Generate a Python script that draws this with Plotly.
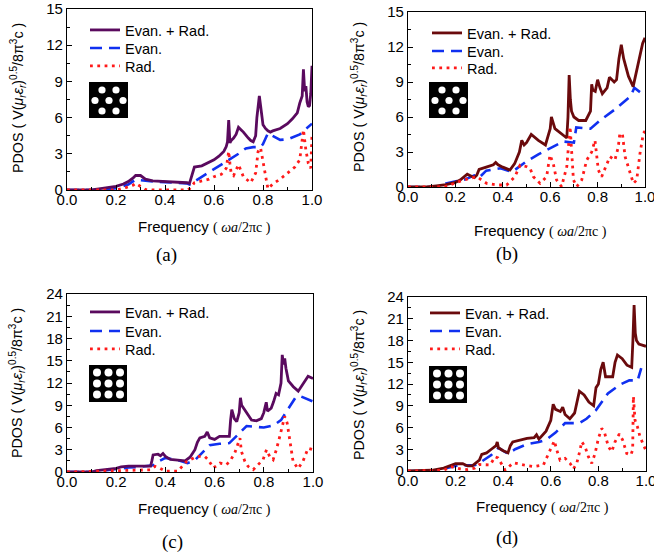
import plotly.graph_objects as go

W, H = 654, 556

# ---------------- data ----------------
a_tot_x = [0, 0.10, 0.13, 0.17, 0.20, 0.23, 0.25, 0.27, 0.28, 0.30, 0.32, 0.35, 0.40, 0.45, 0.49, 0.50, 0.51, 0.52, 0.55, 0.58, 0.60, 0.62, 0.64, 0.65, 0.655, 0.66, 0.665, 0.67, 0.68, 0.69, 0.70, 0.71, 0.72, 0.74, 0.75, 0.76, 0.77, 0.775, 0.78, 0.785, 0.79, 0.80, 0.81, 0.82, 0.83, 0.84, 0.87, 0.90, 0.92, 0.94, 0.95, 0.96, 0.965, 0.97, 0.975, 0.98, 0.985, 0.99, 0.995, 1.0]
a_tot_y = [0, 0, 0.1, 0.2, 0.3, 0.5, 0.7, 1.0, 1.2, 1.2, 0.9, 0.75, 0.7, 0.7, 0.6, 0.55, 1.3, 1.9, 2.0, 2.3, 2.5, 2.8, 3.2, 3.6, 4.0, 5.8, 3.9, 4.1, 4.3, 4.6, 5.2, 5.0, 4.8, 4.3, 4.1, 4.0, 4.5, 6.0, 7.0, 7.8, 7.0, 5.4, 5.1, 4.9, 4.8, 4.9, 5.1, 5.5, 5.9, 6.4, 7.2, 7.8, 10.0, 8.2, 8.6, 7.3, 6.9, 7.0, 8.0, 10.3]
a_eva_x = [0, 0.15, 0.20, 0.25, 0.28, 0.30, 0.35, 0.40, 0.45, 0.49, 0.50, 0.52, 0.55, 0.60, 0.65, 0.70, 0.73, 0.76, 0.79, 0.80, 0.82, 0.84, 0.87, 0.90, 0.95, 1.0]
a_eva_y = [0, 0, 0.15, 0.45, 0.85, 0.8, 0.7, 0.65, 0.6, 0.55, 0.45, 0.7, 1.1, 1.75, 2.4, 3.0, 3.45, 3.55, 3.55, 3.8, 4.7, 4.5, 4.15, 4.2, 4.6, 5.5]
a_rad_x = [0, 0.20, 0.24, 0.27, 0.28, 0.30, 0.32, 0.35, 0.45, 0.49, 0.50, 0.52, 0.55, 0.58, 0.60, 0.63, 0.65, 0.66, 0.665, 0.67, 0.68, 0.70, 0.72, 0.75, 0.77, 0.78, 0.79, 0.80, 0.81, 0.82, 0.84, 0.87, 0.90, 0.93, 0.95, 0.965, 0.975, 0.985, 0.995, 1.0]
a_rad_y = [0, 0, 0.2, 0.4, 0.55, 0.3, 0.05, 0, 0, 0, 0.1, 0.6, 0.75, 0.9, 1.1, 1.3, 1.8, 3.2, 2.2, 1.4, 1.2, 2.1, 1.1, 0.6, 1.4, 3.2, 3.5, 2.3, 1.1, 0.1, 0.5, 0.9, 1.4, 1.9, 2.5, 5.0, 3.3, 2.2, 1.8, 4.6]

b_tot_x = [0, 0.08, 0.12, 0.16, 0.20, 0.22, 0.25, 0.27, 0.28, 0.29, 0.30, 0.33, 0.36, 0.37, 0.38, 0.40, 0.43, 0.45, 0.47, 0.48, 0.49, 0.50, 0.52, 0.55, 0.58, 0.60, 0.605, 0.62, 0.65, 0.67, 0.675, 0.68, 0.685, 0.69, 0.70, 0.72, 0.75, 0.77, 0.775, 0.78, 0.79, 0.80, 0.81, 0.82, 0.84, 0.85, 0.87, 0.88, 0.89, 0.90, 0.91, 0.93, 0.95, 0.97, 0.99, 1.0]
b_tot_y = [0, 0, 0.1, 0.2, 0.4, 0.6, 1.1, 0.9, 0.8, 1.0, 1.5, 1.7, 1.9, 2.1, 1.9, 1.7, 1.45, 2.0, 3.0, 4.0, 3.6, 3.8, 4.5, 4.0, 3.6, 5.0, 6.0, 5.0, 4.5, 4.2, 6.0, 9.6, 7.5, 6.5, 6.0, 5.7, 5.7, 6.5, 8.8, 8.3, 8.2, 9.2, 8.5, 8.0, 8.5, 9.4, 9.0, 9.2, 11.0, 12.2, 11.0, 9.5, 8.6, 10.5, 12.3, 12.8]
b_eva_x = [0, 0.12, 0.16, 0.20, 0.24, 0.28, 0.30, 0.33, 0.39, 0.44, 0.50, 0.55, 0.60, 0.655, 0.70, 0.71, 0.77, 0.81, 0.87, 0.94, 0.955, 1.0]
b_eva_y = [0, 0, 0.3, 0.45, 0.65, 1.0, 0.8, 1.4, 1.6, 1.3, 2.2, 2.8, 3.3, 3.9, 3.8, 5.1, 5.0, 5.7, 6.6, 7.8, 8.5, 7.8]
b_rad_x = [0, 0.15, 0.177, 0.233, 0.29, 0.332, 0.375, 0.416, 0.451, 0.473, 0.501, 0.515, 0.529, 0.557, 0.585, 0.599, 0.613, 0.627, 0.648, 0.67, 0.684, 0.69, 0.698, 0.712, 0.733, 0.754, 0.775, 0.789, 0.803, 0.817, 0.838, 0.852, 0.873, 0.887, 0.894, 0.905, 0.916, 0.937, 0.951, 0.965, 0.979, 0.993, 1.0]
b_rad_y = [0, 0, 0.17, 0.6, 0.88, 0.31, 0.17, 0.17, 0.88, 1.88, 1.74, 1.6, 0.88, 0.31, 0.88, 2.74, 2.0, 0.6, 0.03, 1.74, 5.17, 2.9, 0.6, 0.03, 0.6, 2.3, 3.0, 4.0, 1.46, 0.88, 2.0, 2.6, 2.3, 3.4, 4.6, 4.5, 2.6, 1.17, 0.31, 0.6, 2.9, 4.6, 4.8]

c_tot_x = [0, 0.10, 0.12, 0.15, 0.20, 0.22, 0.25, 0.30, 0.34, 0.345, 0.35, 0.37, 0.38, 0.39, 0.40, 0.42, 0.45, 0.48, 0.50, 0.52, 0.53, 0.54, 0.56, 0.57, 0.58, 0.60, 0.62, 0.66, 0.665, 0.67, 0.68, 0.69, 0.70, 0.705, 0.71, 0.73, 0.75, 0.77, 0.79, 0.80, 0.81, 0.815, 0.83, 0.84, 0.85, 0.86, 0.87, 0.875, 0.88, 0.885, 0.89, 0.90, 0.92, 0.94, 0.96, 0.98, 1.0]
c_tot_y = [0, 0, 0.2, 0.3, 0.5, 0.7, 0.8, 0.8, 0.8, 1.5, 2.3, 2.4, 2.2, 2.5, 2.1, 1.7, 1.6, 1.5, 2.0, 3.0, 4.0, 4.6, 4.8, 5.4, 4.6, 4.4, 4.8, 4.8, 7.0, 8.4, 7.2, 6.8, 8.0, 10.0, 9.0, 8.0, 7.0, 6.9, 7.2, 8.0, 9.4, 8.2, 8.6, 9.5, 10.6, 10.4, 12.0, 15.8, 14.5, 15.3, 14.0, 12.3, 11.5, 10.9, 11.9, 12.9, 12.6]
c_eva_x = [0, 0.10, 0.15, 0.20, 0.25, 0.30, 0.35, 0.37, 0.40, 0.45, 0.49, 0.52, 0.54, 0.58, 0.62, 0.66, 0.70, 0.73, 0.80, 0.84, 0.87, 0.90, 0.93, 0.95, 1.0]
c_eva_y = [0, 0, 0.2, 0.4, 0.6, 0.7, 0.9, 1.4, 1.9, 1.6, 1.2, 1.6, 2.3, 3.6, 3.8, 3.9, 5.2, 6.2, 6.0, 6.3, 7.0, 8.5, 10.1, 10.2, 9.5]
c_rad_x = [0, 0.15, 0.20, 0.25, 0.30, 0.34, 0.358, 0.378, 0.40, 0.45, 0.486, 0.527, 0.56, 0.574, 0.595, 0.622, 0.649, 0.666, 0.682, 0.692, 0.703, 0.709, 0.723, 0.736, 0.757, 0.77, 0.797, 0.811, 0.824, 0.838, 0.851, 0.865, 0.876, 0.885, 0.895, 0.903, 0.919, 0.939, 0.959, 0.98, 1.0]
c_rad_y = [0, 0.1, 0.2, 0.2, 0.2, 0.3, 0.76, 0.5, 0.1, 0.1, 1.4, 2.1, 2.1, 1.66, 0.54, 1.2, 1.0, 1.66, 2.56, 3.45, 4.57, 2.78, 1.43, 0.76, 0.31, 0.76, 1.66, 3.0, 2.1, 1.66, 3.0, 4.8, 6.1, 7.5, 6.6, 4.8, 1.43, 0.45, 1.43, 3.2, 3.0]

d_tot_x = [0, 0.08, 0.10, 0.15, 0.18, 0.20, 0.23, 0.25, 0.27, 0.30, 0.31, 0.33, 0.35, 0.37, 0.375, 0.38, 0.40, 0.42, 0.43, 0.44, 0.50, 0.53, 0.54, 0.55, 0.58, 0.60, 0.61, 0.62, 0.64, 0.65, 0.66, 0.68, 0.70, 0.72, 0.74, 0.76, 0.78, 0.79, 0.80, 0.81, 0.82, 0.83, 0.86, 0.87, 0.88, 0.90, 0.92, 0.94, 0.945, 0.95, 0.955, 0.96, 0.97, 1.0]
d_tot_y = [0, 0, 0.1, 0.4, 0.8, 1.0, 1.0, 0.7, 0.7, 1.5, 2.3, 2.5, 3.0, 3.5, 4.0, 3.2, 2.8, 2.5, 3.5, 4.0, 4.5, 4.6, 5.0, 4.4, 5.5, 7.0, 9.2, 8.5, 8.2, 8.8, 7.8, 7.2, 8.0, 11.0, 10.5, 9.5, 9.0, 11.5, 12.0, 14.0, 15.0, 13.0, 13.0, 15.0, 16.0, 15.5, 14.6, 14.3, 18.0, 22.9, 19.0, 18.0, 17.5, 17.2]
d_eva_x = [0, 0.10, 0.15, 0.20, 0.25, 0.28, 0.30, 0.35, 0.38, 0.42, 0.45, 0.50, 0.55, 0.58, 0.62, 0.66, 0.72, 0.75, 0.79, 0.84, 0.89, 0.93, 0.965, 0.98]
d_eva_y = [0, 0, 0.3, 0.7, 0.8, 0.8, 1.1, 2.2, 3.2, 2.4, 3.0, 3.7, 4.0, 4.3, 5.3, 6.6, 6.6, 7.2, 8.4, 10.7, 11.9, 12.5, 12.5, 14.2]
d_rad_x = [0, 0.15, 0.18, 0.22, 0.25, 0.28, 0.30, 0.345, 0.366, 0.378, 0.408, 0.443, 0.485, 0.527, 0.569, 0.597, 0.615, 0.625, 0.639, 0.66, 0.681, 0.695, 0.709, 0.723, 0.73, 0.744, 0.758, 0.772, 0.786, 0.80, 0.814, 0.825, 0.842, 0.856, 0.87, 0.888, 0.902, 0.919, 0.936, 0.944, 0.947, 0.954, 0.964, 0.975, 0.99, 1.0]
d_rad_y = [0, 0.1, 0.6, 0.3, 0.2, 0.4, 0.9, 0.83, 1.97, 1.8, 0.14, 1.15, 0.83, 0.6, 0.83, 2.9, 4.17, 2.9, 1.5, 1.74, 1.05, 0.28, 1.05, 2.9, 4.04, 3.35, 1.97, 1.05, 2.43, 4.5, 5.87, 5.4, 3.35, 2.66, 4.04, 5.1, 4.27, 2.43, 2.2, 2.9, 10.3, 7.0, 6.1, 4.7, 3.5, 2.8]

series_names = ["Evan. + Rad.", "Evan.", "Rad."]
panel_labels = ["(a)", "(b)", "(c)", "(d)"]
y_ranges = [[0, 15], [0, 15], [0, 24], [0, 24]]
x_ticks = [0.0, 0.2, 0.4, 0.6, 0.8, 1.0]

# ---------------- layout helpers (pixel -> paper) ----------------
def px(p):
    return p / W

def py(p):
    return 1 - p / H

# plot areas in pixels: (left, right, top, bottom)
areas = [(67, 312, 9, 190), (408, 645, 12, 187), (67, 313, 294, 472), (408, 646, 297, 471)]
tot_colors = ["#5a0a5e", "#6a0a0c", "#5a0a5e", "#6a0a0c"]
BLUE = "#1030f0"
RED = "#ff1a1a"
FONT = "Arial, 'Liberation Sans', sans-serif"
SERIF = "'Times New Roman', 'Liberation Serif', serif"

data = [
    (a_tot_x, a_tot_y, a_eva_x, a_eva_y, a_rad_x, a_rad_y),
    (b_tot_x, b_tot_y, b_eva_x, b_eva_y, b_rad_x, b_rad_y),
    (c_tot_x, c_tot_y, c_eva_x, c_eva_y, c_rad_x, c_rad_y),
    (d_tot_x, d_tot_y, d_eva_x, d_eva_y, d_rad_x, d_rad_y),
]

legend_rows = [(90, [30, 48, 66]), (432, [33, 51, 68]), (90, [312, 331, 349]), (430, [313, 331, 349])]

fig = go.Figure()
layout = dict(width=W, height=H, margin=dict(l=0, r=0, t=0, b=0, autoexpand=False),
              paper_bgcolor="white", plot_bgcolor="white", showlegend=True)

shapes = []
annotations = []
lg = 0
for i in range(4):
    xs = "" if i == 0 else str(i + 1)
    xa, ya = "x" + xs, "y" + xs
    l, r, t, b = areas[i]
    layout["xaxis" + xs] = dict(
        domain=[px(l), px(r)], anchor=ya, range=[0, 1], tickvals=x_ticks, automargin=False,
        ticktext=["%.1f" % v for v in x_ticks], ticks="inside", ticklen=5, tickwidth=1,
        ticklabeloverflow="allow", ticklabelstandoff=-4,
        tickcolor="black", showline=True, linecolor="black", linewidth=1.2, mirror=True,
        showgrid=False, zeroline=False, tickfont=dict(family=FONT, size=15, color="black"),
        minor=dict(dtick=0.1, ticks="inside", ticklen=3, tickcolor="black", showgrid=False),
        fixedrange=True)
    layout["yaxis" + xs] = dict(
        domain=[py(b), py(t)], anchor=xa, range=y_ranges[i], dtick=3, tick0=0, automargin=False,
        ticks="inside", ticklen=5, tickwidth=1, tickcolor="black", showline=True,
        ticklabeloverflow="allow",
        linecolor="black", linewidth=1.2, mirror=True, showgrid=False, zeroline=False,
        tickfont=dict(family=FONT, size=15, color="black"),
        minor=dict(dtick=1.5, ticks="inside", ticklen=3, tickcolor="black", showgrid=False),
        fixedrange=True)

    tx, ty, ex, ey, rx, ry = data[i]
    line_x0, rows = legend_rows[i]
    specs = [
        (ex, ey, series_names[1], dict(color=BLUE, width=2.6, dash="12px,7px"), rows[1]),
        (tx, ty, series_names[0], dict(color=tot_colors[i], width=2.8), rows[0]),
        (rx, ry, series_names[2], dict(color=RED, width=2.8, dash="2.8px,4.5px"), rows[2]),
    ]
    for sx, sy, name, line, row in specs:
        lg += 1
        lname = "legend" if lg == 1 else "legend%d" % lg
        fig.add_trace(go.Scatter(x=sx, y=sy, mode="lines", name=name, line=line,
                                 xaxis=xa, yaxis=ya, legend=lname, hoverinfo="skip"))
        layout[lname] = dict(x=px(line_x0 - 5), xanchor="left", y=py(row - 16), yanchor="top",
                             bgcolor="rgba(0,0,0,0)", borderwidth=0,
                             font=dict(family=FONT, size=14.5, color="black"))

    # axis titles / panel labels
    ytitle_pos = [(18, 98), (359, 97), (17, 383), (359, 385)][i]
    xtitle_pos = [(204, 227), (540, 231), (204, 509), (542, 507)][i]
    lab_pos = [(166, 255), (507, 254), (172, 542), (507, 538)][i]
    annotations.append(dict(
        x=px(ytitle_pos[0]), y=py(ytitle_pos[1]), xref="paper", yref="paper", showarrow=False,
        textangle=-90, xanchor="center", yanchor="middle",
        text="PDOS ( V(<i>μ<sub>r</sub>ε<sub>r</sub></i>)<sup>0.5</sup>/8π<sup>3</sup>c )",
        font=dict(family=FONT, size=14.3, color="black")))
    annotations.append(dict(
        x=px(xtitle_pos[0]), y=py(xtitle_pos[1]), xref="paper", yref="paper", showarrow=False,
        xanchor="center", yanchor="middle",
        text="Frequency <span style=\"font-family:Liberation Serif;font-size:14px\">( <i>ωa</i>/2πc )</span>",
        font=dict(family=FONT, size=15, color="black")))
    annotations.append(dict(
        x=px(lab_pos[0]), y=py(lab_pos[1]), xref="paper", yref="paper", showarrow=False,
        xanchor="center", yanchor="middle", text=panel_labels[i],
        font=dict(family=SERIF, size=19, color="black")))

# ---------------- inset lattice pictograms ----------------
def rect(x0, x1, y0, y1):
    shapes.append(dict(type="rect", xref="paper", yref="paper", x0=px(x0), x1=px(x1),
                       y0=py(y1), y1=py(y0), fillcolor="black", line=dict(width=0), layer="above"))

def circ(cx, cy, r):
    shapes.append(dict(type="circle", xref="paper", yref="paper", x0=px(cx - r), x1=px(cx + r),
                       y0=py(cy + r), y1=py(cy - r), fillcolor="white", line=dict(width=0), layer="above"))

# hexagonal (a), (b)
for ox, oy in [(89, 82), (429, 82)]:
    rect(ox, ox + 39, oy, oy + 36)
    for cx, cy in [(13, 8), (27, 8), (6, 18.5), (20, 18.5), (34, 18.5), (13, 29), (27, 29)]:
        circ(ox + cx, oy + cy, 3.6)
# square (c), (d)
for ox, oy in [(89, 365), (429, 366)]:
    rect(ox, ox + 38, oy, oy + 37)
    for cx in [8, 19.5, 31]:
        for cy in [7.5, 18.5, 29.5]:
            circ(ox + cx, oy + cy, 4)

layout["shapes"] = shapes
layout["annotations"] = annotations
fig.update_layout(**layout)
fig.write_html("out.html", config={"displayModeBar": False},
               post_script="document.body.style.margin='0px';document.body.style.overflow='hidden';")
